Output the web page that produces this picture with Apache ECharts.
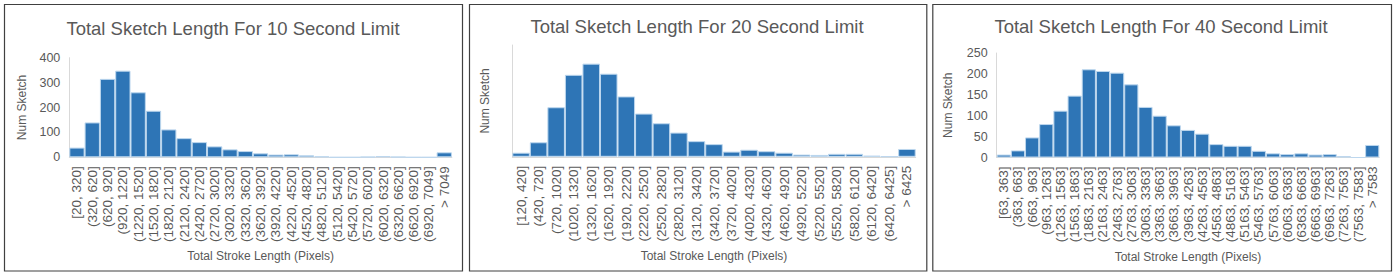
<!DOCTYPE html>
<html>
<head>
<meta charset="utf-8">
<script src="https://cdn.jsdelivr.net/npm/echarts@6/dist/echarts.min.js"></script>
<style>
html,body{margin:0;padding:0;background:#fff;}
#chart{width:1395px;height:277px;}
</style>
</head>
<body>
<div id="chart"></div>
<script>
// ---- Data ----
const titles = [
  'Total Sketch Length For 10 Second Limit',
  'Total Sketch Length For 20 Second Limit',
  'Total Sketch Length For 40 Second Limit'
];
const xAxisTitle = 'Total Stroke Length (Pixels)';
const yAxisTitle = 'Num Sketch';

const categories10 = ['[20, 320]','(320, 620]','(620, 920]','(920, 1220]','(1220, 1520]','(1520, 1820]','(1820, 2120]','(2120, 2420]','(2420, 2720]','(2720, 3020]','(3020, 3320]','(3320, 3620]','(3620, 3920]','(3920, 4220]','(4220, 4520]','(4520, 4820]','(4820, 5120]','(5120, 5420]','(5420, 5720]','(5720, 6020]','(6020, 6320]','(6320, 6620]','(6620, 6920]','(6920, 7049]','> 7049'];
const values10 = [39,140,315,348,261,187,112,77,61,44,32,25,16,11,12,8,4,0,0,2,5,2,0,0,20];

const categories20 = ['[120, 420]','(420, 720]','(720, 1020]','(1020, 1320]','(1320, 1620]','(1620, 1920]','(1920, 2220]','(2220, 2520]','(2520, 2820]','(2820, 3120]','(3120, 3420]','(3420, 3720]','(3720, 4020]','(4020, 4320]','(4320, 4620]','(4620, 4920]','(4920, 5220]','(5220, 5520]','(5520, 5820]','(5820, 6120]','(6120, 6420]','(6420, 6425]','> 6425'];
const values20 = [11,39,133,220,250,223,162,116,90,65,42,34,14,19,15,11,6,5,8,8,3,1,21];

const categories40 = ['[63, 363]','(363, 663]','(663, 963]','(963, 1263]','(1263, 1563]','(1563, 1863]','(1863, 2163]','(2163, 2463]','(2463, 2763]','(2763, 3063]','(3063, 3363]','(3363, 3663]','(3663, 3963]','(3963, 4263]','(4263, 4563]','(4563, 4863]','(4863, 5163]','(5163, 5463]','(5463, 5763]','(5763, 6063]','(6063, 6363]','(6363, 6663]','(6663, 6963]','(6963, 7263]','(7263, 7563]','(7563, 7583]','> 7583'];
const values40 = [7,17,48,80,112,148,211,207,203,175,121,100,77,66,57,32,28,28,16,10,8,10,7,8,3,0,30];

const yMax = [400, 300, 250];
const yInterval = [100, 100, 50];
const showYLabels = [true, false, true];

// ---- Layout / style ----
const FONT = 'Liberation Sans, Arial, sans-serif';
const TXT = '#595959';
const AX = '#d9d9d9';
const BAR = '#2e75b6';
const grids = [
  {left: 69.3, top: 57.7, width: 382.6, height: 99.6},
  {left: 512.3, top: 45, width: 403.4, height: 111.8},
  {left: 996.7, top: 53, width: 382.6, height: 104.5}
];
const titlePos = [[233, 28], [697, 26], [1161, 26]];
const yNameGap = [41, 21, 43];
const panels = [[4, 462], [469, 926.3], [932.3, 1391]];

const allCats = [categories10, categories20, categories40];
const allVals = [values10, values20, values40];

const chart = echarts.init(document.getElementById('chart'), null, {renderer: 'svg'});

const option = {
  backgroundColor: '#ffffff',
  animation: false,
  title: titles.map((t, i) => ({
    text: t,
    left: titlePos[i][0],
    top: titlePos[i][1],
    padding: 0,
    textAlign: 'center',
    textVerticalAlign: 'middle',
    textStyle: {fontFamily: FONT, fontSize: 18.5, fontWeight: 'normal', color: TXT}
  })),
  grid: grids.map(g => Object.assign({containLabel: false}, g)),
  xAxis: allCats.map((c, i) => ({
    type: 'category',
    gridIndex: i,
    data: c,
    boundaryGap: true,
    name: xAxisTitle,
    nameLocation: 'middle',
    nameGap: 93,
    nameTextStyle: {fontFamily: FONT, fontSize: 12, color: TXT},
    axisLine: {show: true, lineStyle: {color: AX, width: 1}},
    axisTick: {show: false},
    axisLabel: {interval: 0, rotate: 90, margin: 9, fontFamily: FONT, fontSize: 13.5, color: TXT},
    splitLine: {show: false}
  })),
  yAxis: yMax.map((m, i) => ({
    type: 'value',
    gridIndex: i,
    min: 0,
    max: m,
    interval: yInterval[i],
    name: yAxisTitle,
    nameLocation: 'middle',
    nameGap: yNameGap[i],
    nameTextStyle: {fontFamily: FONT, fontSize: 12, color: TXT},
    axisLine: {show: true, lineStyle: {color: AX, width: 1}},
    axisTick: {show: false},
    axisLabel: {show: showYLabels[i], margin: 9, fontFamily: FONT, fontSize: 12.5, color: TXT},
    splitLine: {show: false}
  })),
  series: allVals.map((v, i) => ({
    type: 'bar',
    xAxisIndex: i,
    yAxisIndex: i,
    data: v,
    barCategoryGap: '0%',
    itemStyle: {color: BAR, borderColor: '#bdd7ee', borderWidth: 1}
  })),
  graphic: panels.map(p => ({
    type: 'rect',
    silent: true,
    shape: {x: p[0] + 0.5, y: 4.5, width: p[1] - p[0], height: 266.5},
    style: {fill: 'none', stroke: '#404040', lineWidth: 1.2}
  }))
};

chart.setOption(option);
</script>
</body>
</html>
